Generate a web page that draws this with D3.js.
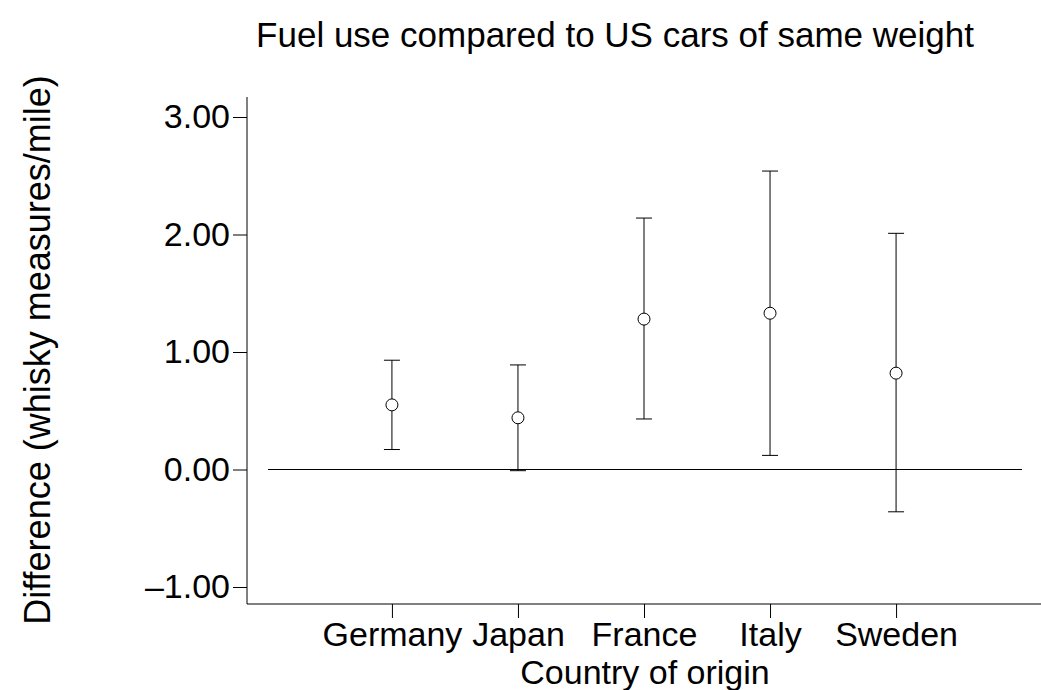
<!DOCTYPE html>
<html>
<head>
<meta charset="utf-8">
<script src="https://cdn.jsdelivr.net/npm/d3@7"></script>
<style>
  body { margin: 0; background: #fff; }
  text { font-family: "Liberation Sans", Arial, sans-serif; fill: #000; }
</style>
</head>
<body>
<svg width="1041" height="690"></svg>
<script>
const countries = ['Germany', 'Japan', 'France', 'Italy', 'Sweden']
const means = [0.55, 0.44, 1.28, 1.33, 0.82]
const lower = [0.17, -0.01, 0.43, 0.12, -0.36]
const upper = [0.93, 0.89, 2.14, 2.54, 2.01]
const yTicks = [-1, 0, 1, 2, 3]

const rows = countries.map((c, i) => ({ c, m: means[i], lo: lower[i], hi: upper[i] }))

const svg = d3.select('svg')
const fontFam = '"Liberation Sans", Arial, sans-serif'

/* SCALES */
const xScale = d3.scalePoint()
  .domain(countries)
  .range([247, 1041])
  .padding(1.15)

const yScale = d3.scaleLinear()
  .domain([-1, 3])
  .range([587, 117])

/* Y AXIS */
const yAxis = d3.axisLeft(yScale)
  .tickValues(yTicks)
  .tickSize(14)
  .tickPadding(3)
  .tickFormat(d => (d < 0 ? '\u2013' : '') + Math.abs(d).toFixed(2))

const gy = svg.append('g')
  .attr('transform', 'translate(247,0)')
  .call(yAxis)
gy.attr('font-size', 34).attr('font-family', fontFam)
gy.select('.domain').attr('d', 'M0,97V604')

/* X AXIS */
const xAxis = d3.axisBottom(xScale)
  .tickSize(14)
  .tickPadding(4)

const gx = svg.append('g')
  .attr('transform', 'translate(0,604)')
  .call(xAxis)
gx.attr('font-size', 34).attr('font-family', fontFam)
gx.select('.domain').attr('d', 'M247,0H1041')

/* ZERO LINE */
svg.append('line')
  .attr('x1', 268).attr('x2', 1022)
  .attr('y1', yScale(0)).attr('y2', yScale(0))
  .attr('stroke', '#000')

/* ERROR BARS */
const bars = svg.append('g').selectAll('g')
  .data(rows)
  .enter().append('g')

bars.append('line')
  .attr('x1', d => xScale(d.c)).attr('x2', d => xScale(d.c))
  .attr('y1', d => yScale(d.lo)).attr('y2', d => yScale(d.hi))
  .attr('stroke', '#000')

bars.selectAll('.cap')
  .data(d => [d.lo, d.hi].map(v => ({ c: d.c, v })))
  .enter().append('line')
  .attr('class', 'cap')
  .attr('x1', d => xScale(d.c) - 8).attr('x2', d => xScale(d.c) + 8)
  .attr('y1', d => yScale(d.v)).attr('y2', d => yScale(d.v))
  .attr('stroke', '#000')

bars.append('circle')
  .attr('cx', d => xScale(d.c))
  .attr('cy', d => yScale(d.m))
  .attr('r', 6)
  .attr('fill', '#fff')
  .attr('stroke', '#000')

/* TITLES */
svg.append('text')
  .attr('x', 615).attr('y', 47)
  .attr('text-anchor', 'middle')
  .attr('font-size', 35)
  .text('Fuel use compared to US cars of same weight')

svg.append('text')
  .attr('x', 645).attr('y', 684)
  .attr('text-anchor', 'middle')
  .attr('font-size', 34)
  .text('Country of origin')

svg.append('text')
  .attr('transform', 'translate(50,350) rotate(-90)')
  .attr('text-anchor', 'middle')
  .attr('font-size', 36)
  .text('Difference (whisky measures/mile)')
</script>
</body>
</html>
